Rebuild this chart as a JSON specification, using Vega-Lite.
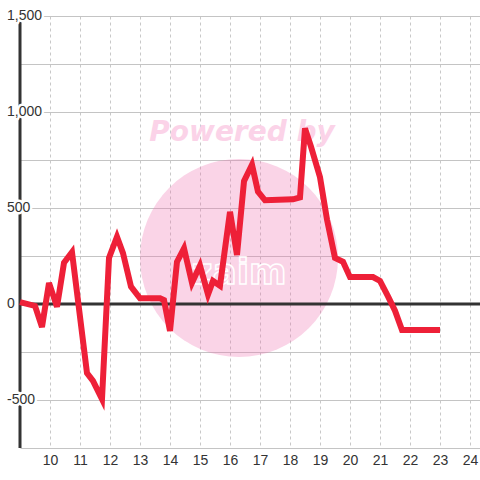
{
  "$schema": "https://vega.github.io/schema/vega-lite/v6.json",
  "width": 460,
  "height": 432,
  "autosize": {"type": "none"},
  "padding": {"left": 20, "top": 16, "right": 0, "bottom": 32},
  "background": "#ffffff",
  "config": {"view": {"stroke": null}, "axis": {"labelOverlap": false}},
  "datasets": {
    "series": [
      {"h": 9.0, "v": 10}, {"h": 9.5, "v": -10}, {"h": 9.733, "v": -120},
      {"h": 9.967, "v": 110}, {"h": 10.233, "v": -15}, {"h": 10.467, "v": 215},
      {"h": 10.733, "v": 270}, {"h": 11.233, "v": -360}, {"h": 11.433, "v": -400},
      {"h": 11.733, "v": -495}, {"h": 11.967, "v": 240}, {"h": 12.233, "v": 350},
      {"h": 12.433, "v": 265}, {"h": 12.7, "v": 90}, {"h": 13.0, "v": 30},
      {"h": 13.667, "v": 30}, {"h": 13.8, "v": 20}, {"h": 14.0, "v": -140},
      {"h": 14.233, "v": 220}, {"h": 14.467, "v": 290}, {"h": 14.733, "v": 110},
      {"h": 15.0, "v": 200}, {"h": 15.267, "v": 50}, {"h": 15.433, "v": 120},
      {"h": 15.667, "v": 95}, {"h": 16.0, "v": 480}, {"h": 16.233, "v": 255},
      {"h": 16.467, "v": 640}, {"h": 16.733, "v": 725}, {"h": 16.933, "v": 585},
      {"h": 17.167, "v": 540}, {"h": 18.1, "v": 545}, {"h": 18.333, "v": 555},
      {"h": 18.5, "v": 915}, {"h": 18.7, "v": 820}, {"h": 19.0, "v": 660},
      {"h": 19.233, "v": 440}, {"h": 19.5, "v": 240}, {"h": 19.767, "v": 220},
      {"h": 20.0, "v": 140}, {"h": 20.767, "v": 140}, {"h": 21.0, "v": 120},
      {"h": 21.267, "v": 40}, {"h": 21.5, "v": -35}, {"h": 21.733, "v": -135},
      {"h": 23.0, "v": -135}
    ],
    "ylabels": [
      {"h": 9, "v": 1500, "l": "1,500"}, {"h": 9, "v": 1000, "l": "1,000"}, {"h": 9, "v": 500, "l": "500"},
      {"h": 9, "v": 0, "l": "0"}, {"h": 9, "v": -500, "l": "-500"}
    ],
    "mark": [
      {"h": 16.3, "v": 240, "t": "Powered by", "logo": "zaim"}
    ],
    "zero": [{"h": 9, "v": 0}],
    "yaxis": [{"h": 9, "v": -750}]
  },
  "encoding": {
    "x": {
      "field": "h", "type": "quantitative",
      "scale": {"domain": [9, 24.3333], "nice": false, "zero": false},
      "axis": {
        "values": [10, 11, 12, 13, 14, 15, 16, 17, 18, 19, 20, 21, 22, 23, 24],
        "format": "d", "title": null, "domain": false, "ticks": false,
        "labelOverlap": false,
        "labelFont": "Liberation Sans", "labelFontSize": 14, "labelColor": "#333333",
        "labelPadding": 5,
        "grid": true, "gridColor": "#c8c8c8", "gridDash": [3, 3], "gridWidth": 1
      }
    },
    "y": {
      "field": "v", "type": "quantitative",
      "scale": {"domain": [-750, 1500], "nice": false, "zero": false},
      "axis": {
        "values": [-750, -500, -250, 0, 250, 500, 750, 1000, 1250, 1500],
        "title": null, "domain": false, "ticks": false, "labels": false,
        "grid": true, "gridColor": "#c4c4c4", "gridWidth": 1
      }
    }
  },
  "layer": [
    {
      "data": {"name": "mark"},
      "mark": {"type": "circle", "size": 39200, "color": "#f06fb0", "opacity": 0.3}
    },
    {
      "data": {"name": "mark"},
      "mark": {"type": "text", "font": "DejaVu Sans", "fontSize": 28, "fontWeight": "bold",
               "fontStyle": "italic", "color": "#fbd3e8", "align": "center", "baseline": "middle",
               "dx": 3, "dy": -125},
      "encoding": {
        "text": {"field": "t"}
      }
    },
    {
      "data": {"name": "mark"},
      "mark": {"type": "text", "font": "DejaVu Sans", "fontSize": 36, "fontWeight": "bold",
               "fill": "#ffffff", "fillOpacity": 0, "stroke": "#ffffff", "strokeWidth": 1.5,
               "align": "center", "baseline": "middle", "dy": 15},
      "encoding": {
        "text": {"field": "logo"}
      }
    },
    {
      "data": {"name": "zero"},
      "mark": {"type": "rule", "color": "#333333", "strokeWidth": 3},
      "encoding": {"x2": {"datum": 24.3333}}
    },
    {
      "data": {"name": "yaxis"},
      "mark": {"type": "rule", "color": "#333333", "strokeWidth": 3},
      "encoding": {"y2": {"datum": 1500}}
    },
    {
      "data": {"name": "ylabels"},
      "mark": {"type": "text", "font": "Liberation Sans", "fontSize": 14, "align": "left",
               "baseline": "middle", "dx": -13, "fill": "#ffffff", "stroke": "#ffffff",
               "strokeWidth": 5, "strokeJoin": "round"},
      "encoding": {
        "text": {"field": "l"}
      }
    },
    {
      "data": {"name": "ylabels"},
      "mark": {"type": "text", "font": "Liberation Sans", "fontSize": 14, "align": "left",
               "baseline": "middle", "dx": -13, "fill": "#333333"},
      "encoding": {
        "text": {"field": "l"}
      }
    },
    {
      "data": {"name": "series"},
      "mark": {"type": "line", "color": "#ee2038", "strokeWidth": 6, "strokeJoin": "miter", "strokeCap": "butt"}
    }
  ]
}
